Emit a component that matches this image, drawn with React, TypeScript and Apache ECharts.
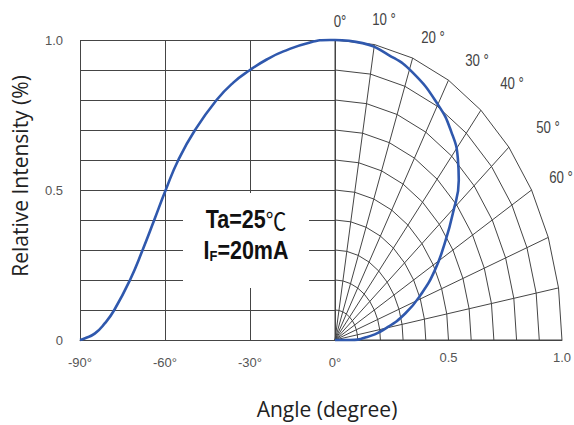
import React, { useEffect, useRef } from 'react';
import * as echarts from 'echarts';

// Left (cartesian) half: relative intensity vs. angle
const leftAngles = [-90, -88.2, -84.7, -81.2, -77.9, -72.35, -67.9, -63.8, -59.75, -55.3, -49.4, -41.8, -35.9, -30, -24.1, -18.2, -8.8, -1.8, 0];
const leftIntensity = [0, 0.006, 0.022, 0.056, 0.1, 0.2, 0.3, 0.4, 0.5, 0.6, 0.7, 0.8, 0.858, 0.9, 0.935, 0.962, 0.992, 1.0, 1.0];

// Right (polar) half: radiation pattern
const polarAngles = [0, 7, 14, 20.8, 30.1, 36.4, 41.8, 45.7, 50.9, 56.3, 62.1, 67.8, 74, 80.1, 86.2, 90, 90];
const polarIntensity = [1.0, 0.997, 0.979, 0.956, 0.906, 0.863, 0.812, 0.762, 0.669, 0.581, 0.498, 0.413, 0.323, 0.227, 0.137, 0.065, 0];

// Polar grid
const gridAngles = [0, 10, 20, 30, 40, 50, 60, 70, 80, 90];
const gridRadii = [0.1, 0.2, 0.3, 0.4, 0.5, 0.6, 0.7, 0.8, 0.9, 1.0];

// Tick labels
const leftYLabels = ['0', '0.5', '1.0'];
const angleLabels = ['0°', '10 °', '20 °', '30 °', '40 °', '50 °', '60 °'];

const TICKFONT = "'Liberation Sans', 'Noto Sans', sans-serif";
const GRID = '#454545';
const BLUE = '#2f58ad';

const toXY = (deg: number, r: number) => {
  const a = (deg * Math.PI) / 180;
  return [r * Math.sin(a), r * Math.cos(a)];
};

export default function App() {
  const ref = useRef<HTMLDivElement>(null);
  useEffect(() => {
    const chart = echarts.init(ref.current!, null, { renderer: 'svg' });

    const gridLine = { color: GRID, width: 1 };
    const series: any[] = [];

    gridRadii.forEach((r) => {
      series.push({
        type: 'line', xAxisIndex: 1, yAxisIndex: 1, data: gridAngles.map((a) => toXY(a, r)),
        showSymbol: false, lineStyle: gridLine, silent: true, clip: false, z: 1,
      });
    });
    gridAngles.forEach((a) => {
      series.push({
        type: 'line', xAxisIndex: 1, yAxisIndex: 1, data: [toXY(a, 0), toXY(a, 1)], showSymbol: false,
        lineStyle: gridLine, silent: true, clip: false, z: 1,
      });
    });

    series.push({
      type: 'line', xAxisIndex: 0, yAxisIndex: 0,
      data: leftAngles.map((a, i) => [a, leftIntensity[i]]),
      showSymbol: false, smooth: 0.5, clip: false, z: 5,
      lineStyle: { color: BLUE, width: 2.6 },
    });
    series.push({
      type: 'line', xAxisIndex: 1, yAxisIndex: 1,
      data: polarAngles.map((a, i) => toXY(a, polarIntensity[i])),
      showSymbol: false, smooth: 0.5, clip: false, z: 5,
      lineStyle: { color: BLUE, width: 2.6 },
    });

    const labelPos: number[][] = [[340, 21], [384, 19], [433, 37], [477, 60], [512, 83], [548, 127], [561, 177]];

    const option: any = {
      animation: false,
      backgroundColor: '#fff',
      grid: [
        { left: 80, top: 40, width: 255, height: 300, containLabel: false },
        { left: 335, top: 40, width: 231, height: 300, containLabel: false },
      ],
      xAxis: [
        {
          type: 'value', gridIndex: 0, min: -90, max: 0, interval: 30,
          axisLine: { show: true, lineStyle: { color: GRID, width: 1 } },
          axisTick: { show: false },
          axisLabel: {
            show: true, margin: 16, color: '#555', fontSize: 13, fontFamily: TICKFONT,
            formatter: (v: number) => `${v}°`,
          },
          splitLine: { show: true, lineStyle: gridLine },
        },
        {
          type: 'value', gridIndex: 1, min: 0, max: 1, interval: 0.5,
          axisLine: { show: true, lineStyle: { color: GRID, width: 1 } },
          axisTick: { show: false },
          axisLabel: {
            show: true, margin: 11, color: '#555', fontSize: 13, fontFamily: TICKFONT,
            formatter: (v: number) => (Math.abs(v) < 1e-6 ? '' : v.toFixed(1)),
          },
          splitLine: { show: false },
        },
      ],
      yAxis: [
        {
          type: 'value', gridIndex: 0, min: 0, max: 1, interval: 0.1,
          axisLine: { show: true, lineStyle: { color: GRID, width: 1 } },
          axisTick: { show: false },
          axisLabel: {
            show: true, margin: 17, color: '#555', fontSize: 13, fontFamily: TICKFONT,
            formatter: (v: number) => {
              if (Math.abs(v) < 1e-6) return leftYLabels[0];
              if (Math.abs(v - 0.5) < 1e-6) return leftYLabels[1];
              if (Math.abs(v - 1) < 1e-6) return leftYLabels[2];
              return '';
            },
          },
          splitLine: { show: true, lineStyle: gridLine },
        },
        {
          type: 'value', gridIndex: 1, min: 0, max: 1, show: false,
          splitLine: { show: false },
        },
      ],
      series,
      graphic: [
        { type: 'rect', shape: { x: 183, y: 193, width: 126, height: 95 }, style: { fill: '#fff' }, z: 50 },
        {
          type: 'text', x: 246, y: 219, z: 51, scaleX: 0.86,
          style: {
            text: '{a|Ta=25}{c|℃}', align: 'center', verticalAlign: 'middle',
            rich: {
              a: { fontSize: 25, fontWeight: 'bold', fontFamily: "'Liberation Sans', sans-serif", fill: '#111' },
              c: { fontSize: 24, fontWeight: 'normal', fontFamily: "'Noto Sans CJK SC', sans-serif", fill: '#111' },
            },
          },
        },
        {
          type: 'text', x: 246, y: 250, z: 51, scaleX: 0.86,
          style: {
            text: '{a|I}{s|F}{a|=20mA}', align: 'center', verticalAlign: 'middle',
            rich: {
              a: { fontSize: 25, fontWeight: 'bold', fontFamily: "'Liberation Sans', sans-serif", fill: '#111', lineHeight: 26 },
              s: { fontSize: 15, fontWeight: 'bold', fontFamily: "'Liberation Sans', sans-serif", fill: '#111', verticalAlign: 'bottom', lineHeight: 15, padding: [13, 0, 0, 0] },
            },
          },
        },
        {
          type: 'text', x: 20, y: 176, rotation: Math.PI / 2, z: 51,
          style: {
            text: 'Relative Intensity (%)', fontSize: 21, fontFamily: "'Open Sans', sans-serif",
            fill: '#222', align: 'center', verticalAlign: 'middle',
          },
        },
        {
          type: 'text', x: 327, y: 409, z: 51,
          style: {
            text: 'Angle (degree)', fontSize: 21, fontFamily: "'Open Sans', sans-serif",
            fill: '#222', align: 'center', verticalAlign: 'middle',
          },
        },
        ...angleLabels.map((t, i) => ({
          type: 'text', x: labelPos[i][0], y: labelPos[i][1], z: 51, scaleX: 0.78,
          style: {
            text: t, fontSize: 17, fontFamily: TICKFONT, fill: '#444',
            align: 'center', verticalAlign: 'middle',
          },
        })),
      ],
    };
    chart.setOption(option);
    return () => chart.dispose();
  }, []);
  return (
    <div
      ref={ref}
      style={{ position: 'fixed', left: 0, top: 0, width: 574, height: 425, background: '#fff' }}
    />
  );
}
